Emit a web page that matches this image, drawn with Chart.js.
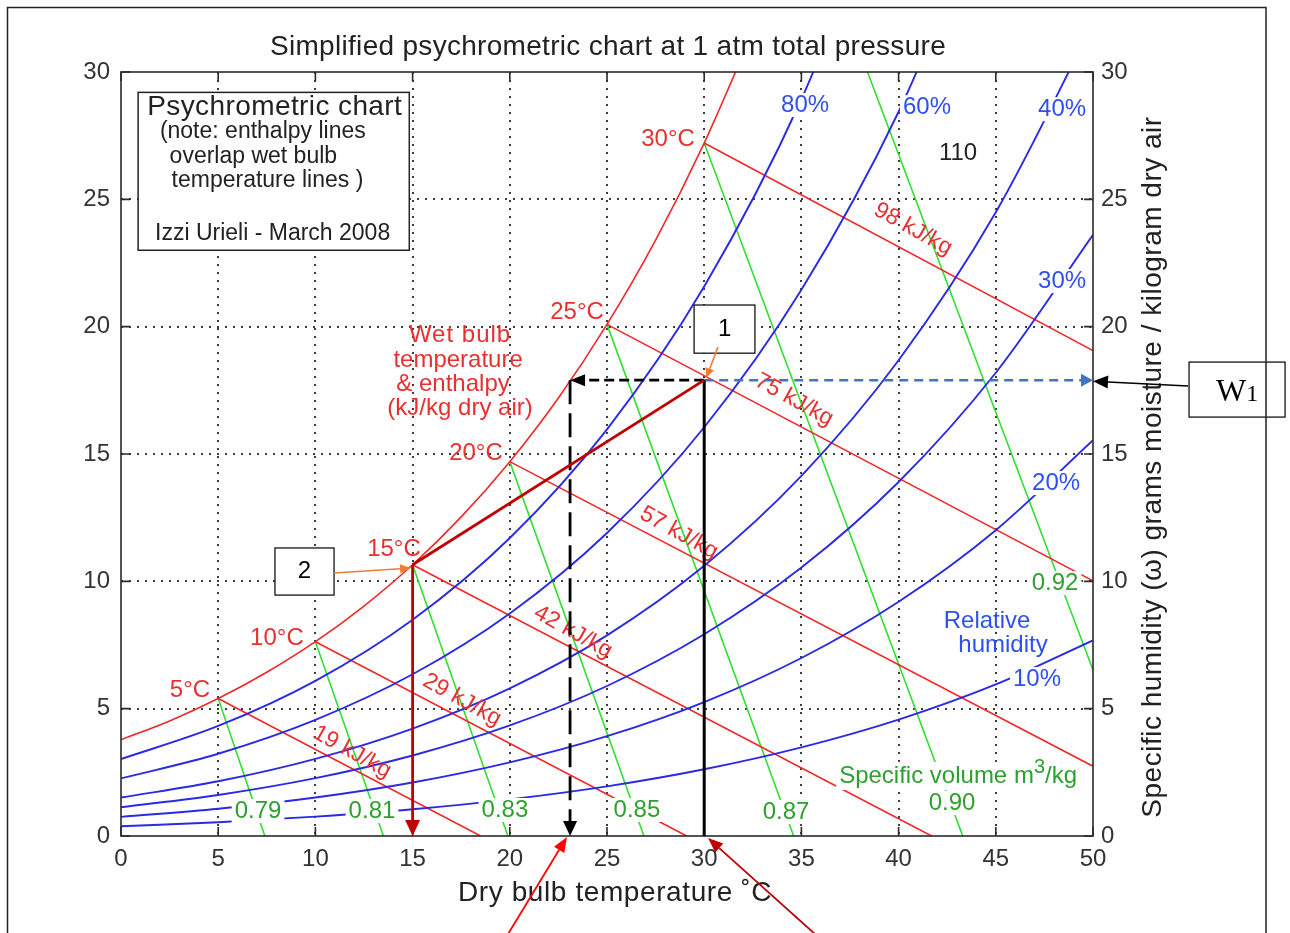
<!DOCTYPE html>
<html><head><meta charset="utf-8">
<script src="https://cdn.jsdelivr.net/npm/chart.js@4/dist/chart.umd.min.js"></script>
<style>html,body{margin:0;padding:0;background:#fff}#wrap{width:1290px;height:933px;position:relative;overflow:hidden}</style>
</head><body><div id="wrap"><canvas id="c" width="1290" height="933"></canvas></div>
<script>
// ---------- data ----------
const dryBulbT = [0,5,10,15,20,25,30,35,40,45,50];
const satT = [0,2.5,5,7.5,10,12.5,15,17.5,20,22.5,25,27.5,30,32.5];
const satW = [3.78,4.52,5.40,6.43,7.63,9.03,10.65,12.53,14.70,17.20,20.09,23.40,27.21,31.58];
const rh80W = [3.02,4.32,6.09,8.49,11.70,15.97,21.58,28.93,38.51];
const rh60W = [2.26,3.23,4.56,6.35,8.74,11.90,16.05,21.45,28.44,37.47];
const rh40W = [1.51,2.15,3.03,4.22,5.80,7.88,10.61,14.14,18.68,24.49,31.89];
const rh30W = [1.13,1.61,2.27,3.16,4.34,5.89,7.92,10.54,13.90,18.19,23.61];
const rh20W = [0.75,1.07,1.51,2.10,2.89,3.92,5.26,6.99,9.20,12.01,15.54];
const rh10W = [0.38,0.54,0.76,1.05,1.44,1.95,2.62,3.48,4.57,5.95,7.68];
const rhLabels = ['80%','60%','40%','30%','20%','10%'];

const enthalpyLabels = ['19 kJ/kg','29 kJ/kg','42 kJ/kg','57 kJ/kg','75 kJ/kg','98 kJ/kg'];
const enthalpyFrom = [[5,5.40],[10,7.63],[15,10.65],[20,14.70],[25,20.09],[30,27.21]];
const enthalpyTo   = [[18.5,0],[29.1,0],[41.7,0],[50,2.74],[50,10.02],[50,19.06]];

const volumeLabels = ['0.79','0.81','0.83','0.85','0.87','0.90','0.92'];
const volumeFrom = [[5,5.40],[10,7.63],[15,10.65],[20,14.70],[25,20.09],[30,27.21],[38.4,30]];
const volumeTo   = [[7.4,0],[13.5,0],[19.9,0],[26.9,0],[34.6,0],[43.3,0],[50,6.52]];

const wetBulbLabels = ['30°C','25°C','20°C','15°C','10°C','5°C'];

const xTicks = [0,5,10,15,20,25,30,35,40,45,50];
const yTicks = [0,5,10,15,20,25,30];

const point1 = [30, 17.9];
const point2 = [15, 10.65];
const dewPointT = 23.1;

// ---------- datasets ----------
const RED='#f02828', BLUE='#2a2ae6', GREEN='#30e030';
function curve(ts, ws){ return ws.map((w,i)=>({x:ts[i], y:w})); }
function seg(a,b){ return [{x:a[0],y:a[1]},{x:b[0],y:b[1]}]; }
const datasets = [];
[rh80W,rh60W,rh40W,rh30W,rh20W,rh10W].forEach(arr=>{
  datasets.push({data:curve(dryBulbT,arr), borderColor:BLUE, borderWidth:1.9, showLine:true, pointRadius:0, cubicInterpolationMode:'monotone'});
});
datasets.push({data:curve(satT,satW), borderColor:RED, borderWidth:1.6, showLine:true, pointRadius:0, cubicInterpolationMode:'monotone'});
enthalpyFrom.forEach((a,i)=>datasets.push({data:seg(a,enthalpyTo[i]), borderColor:RED, borderWidth:1.6, showLine:true, pointRadius:0}));
volumeFrom.forEach((a,i)=>datasets.push({data:seg(a,volumeTo[i]), borderColor:GREEN, borderWidth:1.6, showLine:true, pointRadius:0}));

// ---------- layout / decoration plugin ----------
const FONT='"Liberation Sans", Arial, sans-serif';
const SERIF='"Liberation Serif", "Times New Roman", serif';
const layoutCfg = {
  rhAt: [[35.19,28.70],[41.46,28.62],[48.41,28.54],[48.41,21.79],[48.10,13.86],[47.12,6.16]],
  volAt: [[7.05,0.98],[12.91,0.98],[19.75,1.02],[26.54,1.02],[34.21,0.94],[42.75,1.30],[48.05,9.93]],
  wbAt: [[28.14,27.37],[23.46,20.57],[18.26,15.04],[14.04,11.27],[8.02,7.77],[3.55,5.73]],
  enthAt: [[11.88,3.30],[17.54,5.34],[23.25,8.01],[28.70,11.90],[34.62,17.12],[40.74,23.83]]
};

const deco = {
  id:'deco',
  beforeDraw(chart){const c=chart.ctx;c.save();c.fillStyle='#fff';c.fillRect(0,0,chart.width,chart.height);c.restore();},
  afterDatasetsDraw(chart){
    const c=chart.ctx, xs=chart.scales.x, ys=chart.scales.y, A=chart.chartArea;
    const X=v=>xs.getPixelForValue(v), Y=v=>ys.getPixelForValue(v);
    function txt(s,x,y,color,size,opt={}){
      c.save();
      c.font=(opt.weight||'')+' '+size+'px '+(opt.family||FONT);
      if(opt.ls) c.letterSpacing=opt.ls;
      c.fillStyle=color; c.textAlign=opt.align||'center'; c.textBaseline='middle';
      c.translate(x,y); if(opt.rot) c.rotate(opt.rot);
      if(opt.bg){const w=c.measureText(s).width; let x0=-w/2; if(c.textAlign==='left')x0=0; if(c.textAlign==='right')x0=-w;
        c.fillStyle='#fff'; c.fillRect(x0-3,-size*0.5,w+6,size*1.0); c.fillStyle=color;}
      c.fillText(s,0,0); c.restore();
    }
    // RH labels
    rhLabels.forEach((s,i)=>txt(s,X(layoutCfg.rhAt[i][0]),Y(layoutCfg.rhAt[i][1]),'#2f4ff2',24,{bg:true}));
    // volume labels
    volumeLabels.forEach((s,i)=>txt(s,X(layoutCfg.volAt[i][0]),Y(layoutCfg.volAt[i][1]),'#2ea02e',24,{bg:true}));
    // specific volume label with superscript
    {
      c.save(); c.font='24px '+FONT;
      const p1='Specific volume m', p2='3', p3='/kg';
      const w1=c.measureText(p1).width, w3=c.measureText(p3).width;
      c.font='20px '+FONT; const w2=c.measureText(p2).width;
      const tot=w1+w2+w3; const cx=X(43.06), cy=Y(2.36);
      let x0=cx-tot/2;
      c.fillStyle='#fff'; c.fillRect(x0-3,cy-14,tot+6,28);
      c.fillStyle='#2ea02e'; c.textBaseline='middle'; c.textAlign='left';
      c.font='24px '+FONT; c.fillText(p1,x0,cy);
      c.font='20px '+FONT; c.fillText(p2,x0+w1,cy-8);
      c.font='24px '+FONT; c.fillText(p3,x0+w1+w2,cy);
      c.restore();
    }
    // wet bulb temperature labels
    wetBulbLabels.forEach((s,i)=>txt(s,X(layoutCfg.wbAt[i][0]),Y(layoutCfg.wbAt[i][1]),'#e83030',24));
    // enthalpy labels rotated
    enthalpyLabels.forEach((s,i)=>txt(s,X(layoutCfg.enthAt[i][0]),Y(layoutCfg.enthAt[i][1]),'#e83030',23,{rot:29*Math.PI/180}));
    // wet bulb legend text
    txt('Wet bulb',X(17.44),Y(19.67),'#e83030',24,{ls:'1px'});
    txt('temperature',X(17.34),Y(18.69),'#e83030',24);
    txt('& enthalpy',X(17.08),Y(17.75),'#e83030',24);
    txt('(kJ/kg dry air)',X(17.44),Y(16.80),'#e83030',24);
    txt('110',X(43.06),Y(26.82),'#222',24);
    txt('Relative',X(44.55),Y(8.44),'#2f4ff2',24);
    txt('humidity',X(45.37),Y(7.50),'#2f4ff2',24);
    // top-left info box
    c.save();
    c.fillStyle='#fff'; c.strokeStyle='#222'; c.lineWidth=1.5;
    const bx0=X(0.88), by0=Y(29.2), bx1=X(14.83), by1=Y(23.0);
    c.fillRect(bx0,by0,bx1-bx0,by1-by0); c.strokeRect(bx0,by0,bx1-bx0,by1-by0);
    c.restore();
    txt('Psychrometric chart',X(1.35),Y(28.63),'#222',28,{align:'left',ls:'0.4px'});
    txt('(note: enthalpy lines',X(2.0),Y(27.65),'#222',23,{align:'left'});
    txt('overlap wet bulb',X(2.5),Y(26.68),'#222',23,{align:'left'});
    txt('temperature lines )',X(2.6),Y(25.73),'#222',23,{align:'left'});
    txt('Izzi Urieli - March 2008',X(1.75),Y(23.65),'#222',23,{align:'left'});
    // plot frame and inward ticks
    c.save(); c.strokeStyle='#2a2a2a'; c.lineWidth=1.6;
    c.strokeRect(A.left,A.top,A.right-A.left,A.bottom-A.top);
    c.beginPath();
    xTicks.forEach(v=>{const px=X(v); c.moveTo(px,A.bottom); c.lineTo(px,A.bottom-9); c.moveTo(px,A.top); c.lineTo(px,A.top+9);});
    yTicks.forEach(v=>{const py=Y(v); c.moveTo(A.left,py); c.lineTo(A.left+9,py); c.moveTo(A.right,py); c.lineTo(A.right-9,py);});
    c.stroke(); c.restore();
    // titles
    txt('Simplified psychrometric chart at 1 atm total pressure',608,47,'#222',28,{ls:'0.3px'});
    txt('Dry bulb temperature ˚C',615,893,'#222',28,{ls:'0.6px'});
    txt('Specific humidity (ω) grams moisture / kilogram dry air',1153,467,'#222',28,{rot:-Math.PI/2,ls:'0.5px'});

    // ---------- process annotations ----------
    function arrow(x1,y1,x2,y2,color,lw,dash,hl,hw){
      const ang=Math.atan2(y2-y1,x2-x1);
      const bx=x2-hl*Math.cos(ang), by=y2-hl*Math.sin(ang);
      c.save(); c.strokeStyle=color; c.fillStyle=color; c.lineWidth=lw; c.setLineDash(dash||[]);
      c.beginPath(); c.moveTo(x1,y1); c.lineTo(bx,by); c.stroke();
      c.setLineDash([]);
      if(hl>0){
        c.beginPath(); c.moveTo(x2,y2);
        c.lineTo(bx+hw/2*Math.sin(ang), by-hw/2*Math.cos(ang));
        c.lineTo(bx-hw/2*Math.sin(ang), by+hw/2*Math.cos(ang));
        c.closePath(); c.fill();
      }
      c.restore();
    }
    const p1x=X(point1[0]), p1y=Y(point1[1]), p2x=X(point2[0]), p2y=Y(point2[1]), dx=X(dewPointT);
    arrow(p1x,p1y,A.right,p1y,'#4472c4',2.5,[9,6],12,13);
    arrow(p1x,p1y,p1x,A.bottom,'#000',3,null,0,0);
    arrow(p1x,p1y,dx,p1y,'#000',2.8,[10,5],15,12);
    arrow(dx,p1y,dx,A.bottom,'#000',2.8,[24,9],15,14);
    arrow(p2x,p2y,p1x,p1y,'#c00000',2.8,null,0,0);
    arrow(p2x,p2y,p2x,A.bottom,'#c00000',2.8,null,16,15);
    function box(x0,y0,x1,y1){c.save();c.fillStyle='#fff';c.strokeStyle='#000';c.lineWidth=1.2;
      c.fillRect(X(x0),Y(y0),X(x1)-X(x0),Y(y1)-Y(y0));c.strokeRect(X(x0),Y(y0),X(x1)-X(x0),Y(y1)-Y(y0));c.restore();}
    box(29.48,20.85,32.61,18.96);
    txt('1',X(31.05),Y(19.9),'#000',24);
    arrow(X(30.71),Y(19.20),X(30.1),Y(17.98),'#ed7d31',1.6,null,10,9);
    box(7.92,11.31,10.96,9.46);
    txt('2',X(9.44),Y(10.38),'#000',24);
    arrow(X(10.96),Y(10.33),X(14.92),Y(10.52),'#ed7d31',1.6,null,11,9);
    box(54.94,18.61,59.88,16.45);
    {
      c.save(); c.fillStyle='#000'; c.textBaseline='alphabetic'; c.textAlign='left';
      c.font='32px '+SERIF; const ww=c.measureText('W').width;
      c.font='24px '+SERIF; const w1=c.measureText('1').width;
      const cx=X(57.41)-(ww+w1)/2, base=Y(16.45)-16;
      c.font='32px '+SERIF; c.fillText('W',cx,base);
      c.font='24px '+SERIF; c.fillText('1',cx+ww,base);
      c.restore();
    }
    arrow(X(54.89),Y(17.67),X(50.0),Y(17.86),'#000',1.6,null,15,13);
    arrow(X(19.91),Y(-3.85),X(22.94),Y(-0.04),'#ff0000',1.8,null,15,12);
    arrow(X(35.7),Y(-3.85),X(30.2),Y(-0.08),'#c00000',1.8,null,15,12);
    c.save(); c.strokeStyle='#222'; c.lineWidth=1.5; c.strokeRect(7.5,7.5,1258.5,960); c.restore();
  }
};

const gridColor = ctx => (ctx.tick && (ctx.tick.value===0 || ctx.tick.value===50 || (ctx.scale.axis==='y' && ctx.tick.value===30))) ? 'rgba(0,0,0,0)' : '#3c3c3c';
const tickFont = {family:'Liberation Sans', size:24};

new Chart(document.getElementById('c'), {
  type:'scatter',
  data:{datasets},
  options:{
    responsive:false, animation:false, devicePixelRatio:1,
    layout:{padding:{top:72,left:0,right:0,bottom:0}},
    plugins:{legend:{display:false}, tooltip:{enabled:false}, title:{display:false}},
    elements:{line:{tension:0}},
    scales:{
      x:{type:'linear', position:'bottom', min:0, max:50,
        afterBuildTicks(s){s.ticks=xTicks.map(v=>({value:v}));},
        ticks:{font:tickFont, color:'#333', padding:9, maxRotation:0, autoSkip:false},
        grid:{drawTicks:false, color:gridColor, lineWidth:2},
        border:{display:false, dash:[2,6]},
        afterFit(s){s.height=97;}},
      y:{type:'linear', position:'left', min:0, max:30,
        afterBuildTicks(s){s.ticks=yTicks.map(v=>({value:v}));},
        ticks:{font:tickFont, color:'#333', padding:11, autoSkip:false},
        grid:{drawTicks:false, color:gridColor, lineWidth:2},
        border:{display:false, dash:[2,6]},
        afterFit(s){s.width=121;}},
      y2:{type:'linear', position:'right', min:0, max:30,
        afterBuildTicks(s){s.ticks=yTicks.map(v=>({value:v}));},
        ticks:{font:tickFont, color:'#333', padding:8, autoSkip:false},
        grid:{display:false, drawTicks:false},
        border:{display:false},
        afterFit(s){s.width=197;}}
    }
  },
  plugins:[deco]
});
</script></body></html>
